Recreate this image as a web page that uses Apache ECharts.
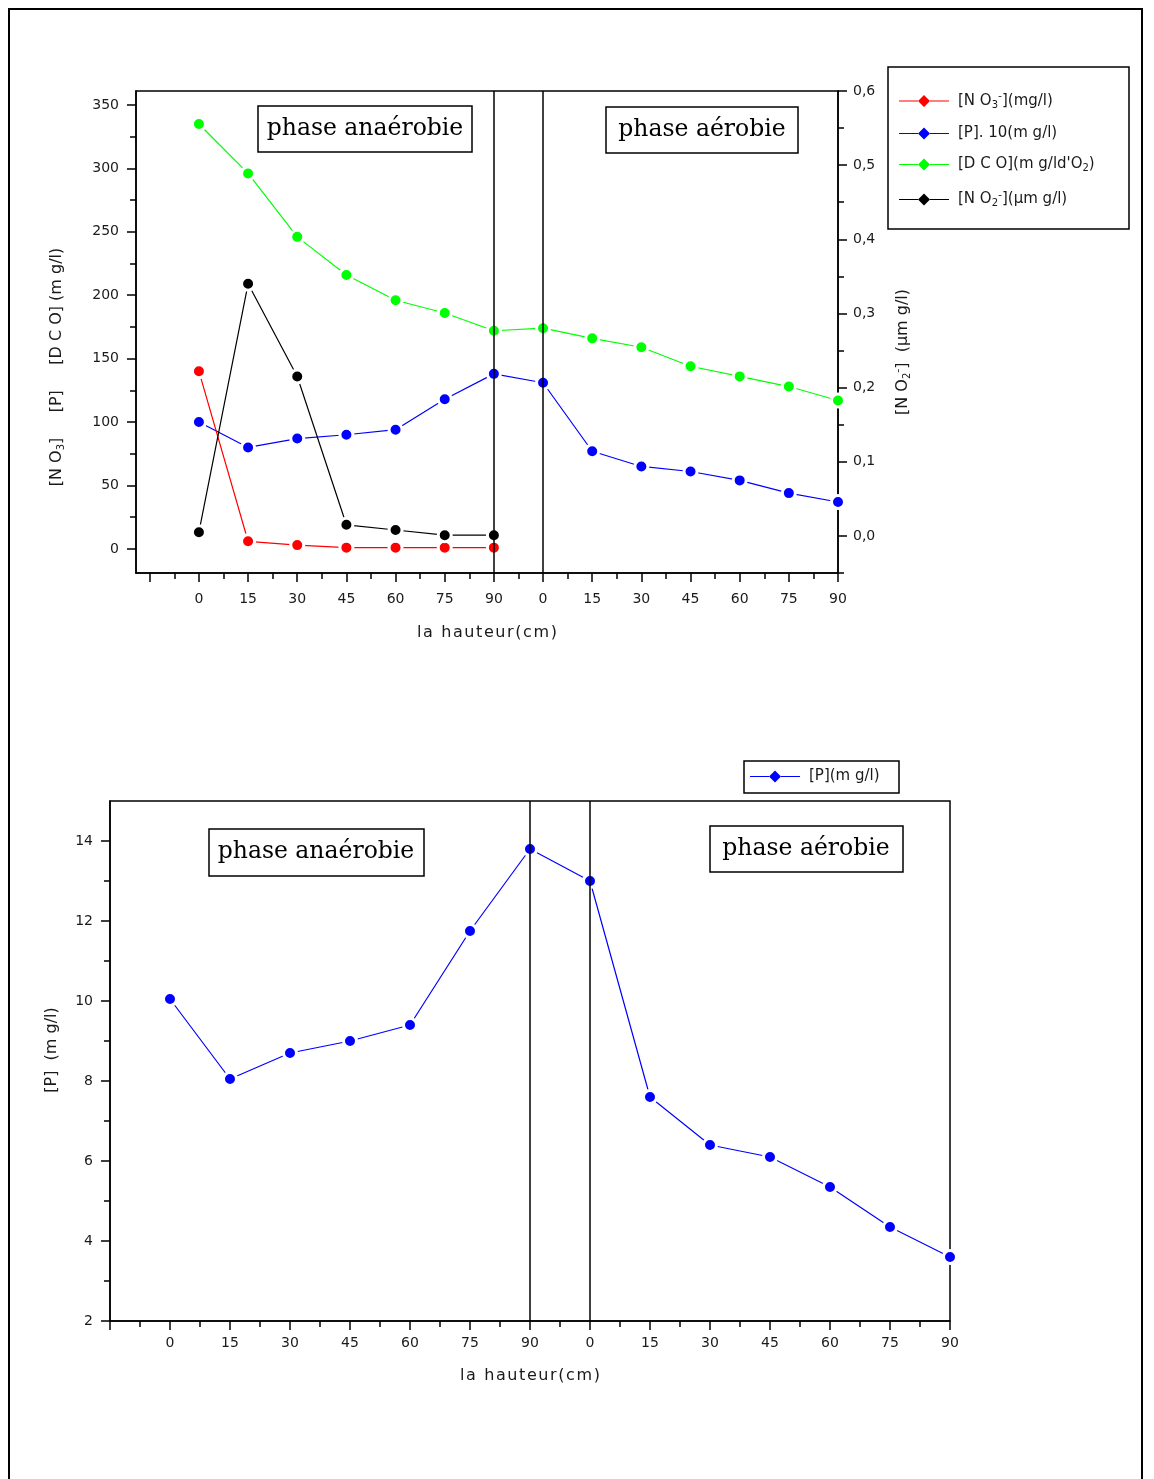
<!DOCTYPE html>
<html>
<head>
<meta charset="utf-8">
<script src="https://cdn.jsdelivr.net/npm/echarts@6/dist/echarts.min.js"></script>
<style>
  html, body { margin: 0; padding: 0; background: #fff; }
  #chart { width: 1154px; height: 1479px; }
</style>
</head>
<body>
<div id="chart"></div>
<script>
// Sampling heights along the column: anaerobic section, then aerobic section (cm)
const heights = ['0', '15', '30', '45', '60', '75', '90', '0', '15', '30', '45', '60', '75', '90'];

// Upper chart
const nitrate = [140, 6, 3, 1, 1, 1, 1];                                      // [NO3-] mg/l (anaerobic part)
const phosphateX10 = [100, 80, 87, 90, 94, 118, 138, 131, 77, 65, 61, 54, 44, 37]; // [P].10 mg/l
const dco = [335, 296, 246, 216, 196, 186, 172, 174, 166, 159, 144, 136, 128, 117]; // [DCO] mg/l d'O2
const nitrite = [0.005, 0.34, 0.215, 0.015, 0.008, 0.001, 0.001];             // [NO2-] µmg/l (anaerobic part)

// Lower chart
const phosphate = [10.05, 8.05, 8.7, 9.0, 9.4, 11.75, 13.8, 13.0, 7.6, 6.4, 6.1, 5.35, 4.35, 3.6]; // [P] mg/l

// Tick positions / labels
const leftTicks = [0, 50, 100, 150, 200, 250, 300, 350];
const leftMinor = [25, 75, 125, 175, 225, 275, 325];
const rightTicks = [0, 0.1, 0.2, 0.3, 0.4, 0.5, 0.6];
const rightMinor = [-0.05, 0.05, 0.15, 0.25, 0.35, 0.45, 0.55];
const pTicks = [2, 4, 6, 8, 10, 12, 14];
const pMinor = [3, 5, 7, 9, 11, 13];

const FONT = 'DejaVu Sans, Verdana, sans-serif';
const SERIF = 'DejaVu Serif, serif';
const INK = '#1a1a1a';
const HS = '\u200A'; // hair space, used to loosen the axis titles

const points = arr => arr.map((v, i) => [i, v]);
const range = (a, b, s) => { const r = []; for (let v = a; v <= b + 1e-9; v += s) r.push(+v.toFixed(2)); return r; };
const loose = s => s.split('').join(HS);

const majorX = range(-1, 13, 1);
const minorX = range(-0.5, 12.5, 1);
const labelX = range(0, 13, 1);

const blackLine = { color: '#000', width: 1.5 };
const tickFont = { fontFamily: FONT, fontSize: 14, color: INK };

function xAxes(grid, min) {
  return [
    {
      gridIndex: grid, type: 'value', position: 'bottom', min: min, max: 13,
      axisLine: { onZero: false, lineStyle: blackLine },
      axisTick: { length: 9, lineStyle: blackLine, customValues: majorX },
      axisLabel: Object.assign({
        customValues: labelX, margin: grid === 0 ? 19 : 15,
        formatter: v => heights[Math.round(v)]
      }, tickFont),
      splitLine: { show: false }
    },
    {
      gridIndex: grid, type: 'value', position: 'bottom', min: min, max: 13,
      axisLine: { show: false, onZero: false },
      axisTick: { length: 6, lineStyle: blackLine, customValues: minorX },
      axisLabel: { show: false },
      splitLine: { show: false }
    }
  ];
}

function yPair(grid, pos, min, max, ticks, minor, fmt, margin) {
  return [
    {
      gridIndex: grid, type: 'value', position: pos, min: min, max: max,
      axisLine: { show: true, onZero: false, lineStyle: blackLine },
      axisTick: { show: true, length: 9, lineStyle: blackLine, customValues: ticks },
      axisLabel: Object.assign({ customValues: ticks, formatter: fmt, margin: margin }, tickFont),
      splitLine: { show: false }
    },
    {
      gridIndex: grid, type: 'value', position: pos, min: min, max: max,
      axisLine: { show: false, onZero: false },
      axisTick: { show: true, length: 6, lineStyle: blackLine, customValues: minor },
      axisLabel: { show: false },
      splitLine: { show: false }
    }
  ];
}

// vertical separators between the anaerobic and aerobic sections
function dividerSeries(xi, yi) {
  return {
    type: 'line', xAxisIndex: xi, yAxisIndex: yi, data: [], z: 5, silent: true,
    markLine: {
      silent: true, symbol: ['none', 'none'], label: { show: false },
      lineStyle: { color: '#000', width: 1.5, type: 'solid' },
      emphasis: { disabled: true },
      data: [{ xAxis: 6 }, { xAxis: 7 }]
    }
  };
}

function lineSeries(name, data, color, xi, yi) {
  return {
    name: name, type: 'line', xAxisIndex: xi, yAxisIndex: yi,
    data: points(data), symbol: 'circle', symbolSize: 13, showAllSymbol: true,
    // white rim keeps the connecting line slightly apart from each marker
    itemStyle: { color: color, borderColor: '#fff', borderWidth: 3 },
    lineStyle: { color: color, width: 1.2 },
    emphasis: { disabled: true }
  };
}

// legend icon: short line, diamond, short line
const ICON = 'path://M0,5.5H19V6.5H0Z M19,6L25,0L31,6L25,12Z M31,5.5H50V6.5H31Z';

const sub = { fontSize: 10, padding: [8, 0, 0, 0], fontFamily: FONT, color: INK };
const sup = { fontSize: 11, padding: [0, 0, 9, 0], fontFamily: FONT, color: INK };
const richText = { sub: sub, sup: sup };

const legendLabels = {
  'NO3': '[N O{sub|3}{sup|-}](mg/l)',
  'P10': '[P]. 10(m g/l)',
  'DCO': '[D C O](m g/ld\'O{sub|2})',
  'NO2': '[N O{sub|2}{sup|-}](µm g/l)',
  'P': '[P](m g/l)'
};

const xTitle = loose('la hauteur(cm)');
const legendItemStyle = { borderWidth: 0, borderColor: 'transparent' };

const option = {
  animation: false,
  backgroundColor: '#fff',
  grid: [
    { left: 136, top: 91, width: 702, height: 482, show: true, borderColor: '#000', borderWidth: 1.5, containLabel: false },
    { left: 110, top: 801, width: 840, height: 520, show: true, borderColor: '#000', borderWidth: 1.5, containLabel: false }
  ],
  xAxis: [
    ...xAxes(0, -1.28).map((a, i) => i === 0 ? Object.assign(a, {
      name: xTitle, nameLocation: 'middle', nameGap: 52,
      nameTextStyle: { fontFamily: FONT, fontSize: 16, color: INK }
    }) : a),
    ...xAxes(1, -1).map((a, i) => i === 0 ? Object.assign(a, {
      name: xTitle, nameLocation: 'middle', nameGap: 47,
      nameTextStyle: { fontFamily: FONT, fontSize: 16, color: INK }
    }) : a)
  ],
  yAxis: [
    ...yPair(0, 'left', -19, 361, leftTicks, leftMinor, v => String(Math.round(v)), 17),
    ...yPair(0, 'right', -0.05, 0.6, rightTicks, rightMinor, v => v.toFixed(1).replace('.', ','), 15),
    ...yPair(1, 'left', 2, 15, pTicks, pMinor, v => String(Math.round(v)), 17)
  ],
  legend: [
    {
      data: ['NO3', 'P10', 'DCO', 'NO2'],
      orient: 'vertical', left: 889, top: 68,
      padding: [23, 10, 22, 10], itemGap: 16,
      itemWidth: 50, itemHeight: 12, icon: ICON,
      itemStyle: legendItemStyle,
      selectedMode: false,
      formatter: n => legendLabels[n],
      textStyle: { fontFamily: FONT, fontSize: 15, color: INK, padding: [0, 0, 0, 4], rich: richText }
    },
    {
      data: ['P'],
      orient: 'horizontal', left: 744, top: 761,
      padding: [8, 6, 7, 6],
      itemWidth: 50, itemHeight: 12, icon: ICON,
      itemStyle: legendItemStyle,
      selectedMode: false,
      formatter: n => legendLabels[n],
      textStyle: { fontFamily: FONT, fontSize: 15, color: INK, padding: [0, 0, 0, 4] }
    }
  ],
  series: [
    lineSeries('DCO', dco, '#00ff00', 0, 0),
    lineSeries('P10', phosphateX10, '#0000ff', 0, 0),
    lineSeries('NO3', nitrate, '#ff0000', 0, 0),
    lineSeries('NO2', nitrite, '#000000', 0, 2),
    dividerSeries(0, 0),
    lineSeries('P', phosphate, '#0000ff', 2, 4),
    dividerSeries(2, 4)
  ],
  graphic: [
    // page frame
    { type: 'rect', z: -10, shape: { x: 9, y: 9, width: 1133, height: 1490 },
      style: { fill: 'none', stroke: '#000', lineWidth: 2 } },
    // legend frames
    { type: 'rect', z: -5, shape: { x: 888, y: 67, width: 241, height: 162 },
      style: { fill: 'none', stroke: '#000', lineWidth: 1.5 } },
    { type: 'rect', z: -5, shape: { x: 744, y: 761, width: 155, height: 32 },
      style: { fill: 'none', stroke: '#000', lineWidth: 1.5 } },
    // axis titles
    { type: 'text', x: 57, y: 367, rotation: Math.PI / 2,
      style: { text: '[N O{sub|3}]     [P]     [D C O] (m g/l)', rich: richText, align: 'center', verticalAlign: 'middle',
               font: '16px ' + FONT, fill: INK } },
    { type: 'text', x: 903, y: 352, rotation: Math.PI / 2,
      style: { text: '[N O{sub|2}{sup|-}]  (µm g/l)', rich: richText, align: 'center', verticalAlign: 'middle',
               font: '16px ' + FONT, fill: INK } },
    { type: 'text', x: 52, y: 1050, rotation: Math.PI / 2,
      style: { text: '[P]  (m g/l)', align: 'center', verticalAlign: 'middle', font: '16px ' + FONT, fill: INK } },
    // phase labels, upper chart
    { type: 'rect', shape: { x: 258, y: 106, width: 214, height: 46 }, style: { fill: '#fff', stroke: '#000', lineWidth: 1.5 } },
    { type: 'text', x: 365, y: 129, style: { text: 'phase anaérobie', align: 'center', verticalAlign: 'middle', font: '23.5px ' + SERIF, fill: '#000' } },
    { type: 'rect', shape: { x: 606, y: 107, width: 192, height: 46 }, style: { fill: '#fff', stroke: '#000', lineWidth: 1.5 } },
    { type: 'text', x: 702, y: 130, style: { text: 'phase aérobie', align: 'center', verticalAlign: 'middle', font: '23.5px ' + SERIF, fill: '#000' } },
    // phase labels, lower chart
    { type: 'rect', shape: { x: 209, y: 829, width: 215, height: 47 }, style: { fill: '#fff', stroke: '#000', lineWidth: 1.5 } },
    { type: 'text', x: 316, y: 852, style: { text: 'phase anaérobie', align: 'center', verticalAlign: 'middle', font: '23.5px ' + SERIF, fill: '#000' } },
    { type: 'rect', shape: { x: 710, y: 826, width: 193, height: 46 }, style: { fill: '#fff', stroke: '#000', lineWidth: 1.5 } },
    { type: 'text', x: 806, y: 849, style: { text: 'phase aérobie', align: 'center', verticalAlign: 'middle', font: '23.5px ' + SERIF, fill: '#000' } }
  ]
};

const chart = echarts.init(document.getElementById('chart'), null, { renderer: 'canvas' });
chart.setOption(option);
</script>
</body>
</html>
